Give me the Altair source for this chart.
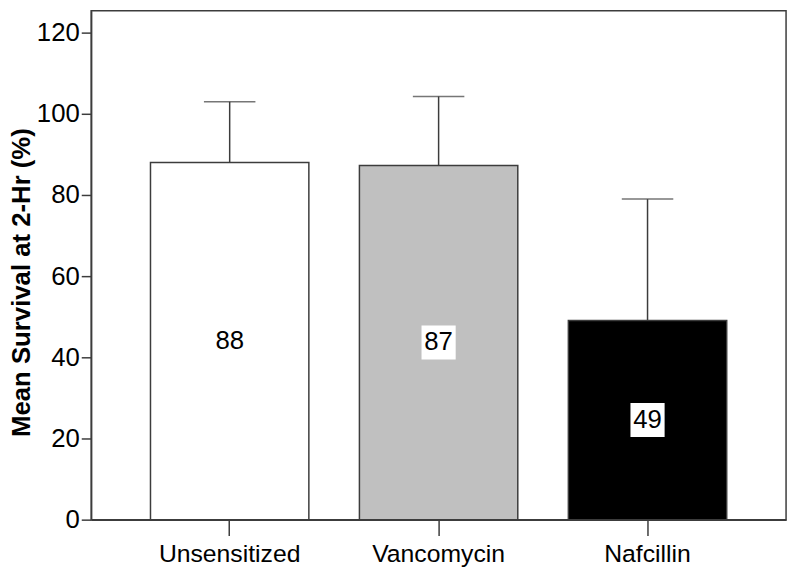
import altair as alt
import pandas as pd

groups = ["Unsensitized", "Vancomycin", "Nafcillin"]
means = [88.0, 87.3, 49.1]
upper = [103.0, 104.3, 79.0]
labels = ["88", "87", "49"]
fills = ["#ffffff", "#c0c0c0", "#000000"]
yticks = [0, 20, 40, 60, 80, 100, 120]

df = pd.DataFrame({"group": groups, "mean": means, "upper": upper,
                   "label": labels, "fill": fills})

FONT = "Liberation Sans"
LINE = "#3c3c3c"

x = alt.X("group:N", sort=groups,
          scale=alt.Scale(paddingInner=0.242, paddingOuter=0.284),
          axis=alt.Axis(title=None, labelAngle=0, labelAlign="center", labelFontSize=25,
                        labelFont=FONT, labelColor="#000", tickSize=16, tickColor=LINE,
                        tickWidth=1.5, domainColor=LINE, domainWidth=1.5, labelPadding=18))
yscale = alt.Scale(domain=[0, 125.4], nice=False, zero=True)
y = alt.Y("mean:Q", scale=yscale,
          axis=alt.Axis(title="Mean Survival at 2-Hr (%)", values=yticks, grid=False,
                        labelFontSize=26, labelFont=FONT, labelColor="#000",
                        tickSize=10, tickColor=LINE, tickWidth=1.5,
                        domainColor=LINE, domainWidth=1.5, labelPadding=2,
                        titleFont=FONT, titleFontSize=26, titleFontWeight="bold",
                        titleColor="#000", titleX=-70, titleY=274,
                        titleBaseline="middle", titleAlign="center", titleAngle=270))

base = alt.Chart(df)

bars = base.mark_bar(stroke=LINE, strokeWidth=1.5).encode(
    x=x, y=y, fill=alt.Fill("fill:N", scale=None))

err = base.mark_rule(color=LINE, strokeWidth=1.5).encode(
    x=alt.X("group:N", sort=groups), y=alt.Y("mean:Q", scale=yscale), y2="upper:Q")

cap = base.mark_tick(color=LINE, thickness=1.5, size=52).encode(
    x=alt.X("group:N", sort=groups), y=alt.Y("upper:Q", scale=yscale))

box = base.transform_calculate(mid="datum.mean / 2").mark_square(
    size=1190, fill="white", opacity=1, strokeWidth=0).encode(
    x=alt.X("group:N", sort=groups), y=alt.Y("mid:Q", scale=yscale))

txt = base.transform_calculate(mid="datum.mean / 2").mark_text(
    fontSize=26, font=FONT, color="#000", baseline="middle").encode(
    x=alt.X("group:N", sort=groups), y=alt.Y("mid:Q", scale=yscale), text="label:N")

chart = alt.layer(err, bars, cap, box, txt).properties(
    width=702, height=514, autosize="none",
    padding={"left": 84, "top": 0, "right": 6, "bottom": 50},
).configure_view(stroke=LINE, strokeWidth=1.5)

chart.save("out.html", embed_options={"renderer": "svg", "actions": False})
